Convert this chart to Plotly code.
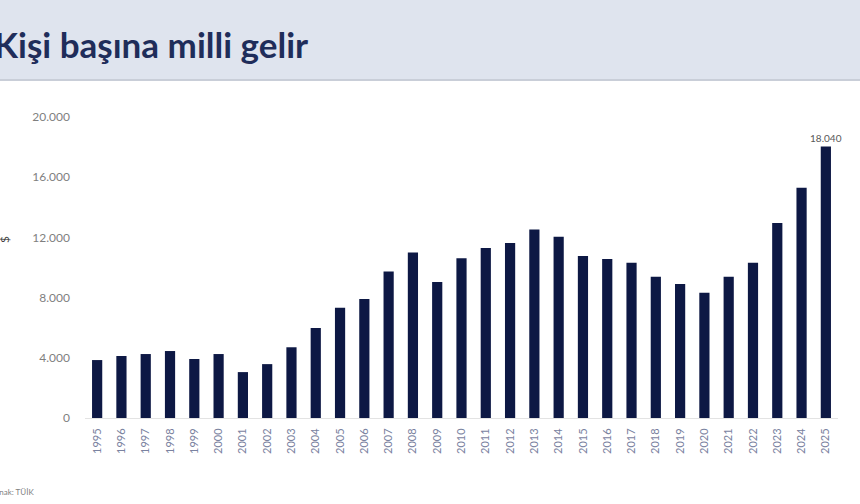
import plotly.graph_objects as go

years = [str(y) for y in range(1995, 2026)]
gelir = [3850, 4120, 4250, 4450, 3920, 4250, 3050, 3580, 4700, 5980,
         7330, 7900, 9730, 10990, 9030, 10620, 11290, 11620, 12520, 12050,
         10760, 10560, 10320, 9390, 8900, 8330, 9390, 10320, 12950, 15300,
         18040]
title_text = "Kişi başına milli gelir"
unit_text = "$"
source_text = "Kaynak: TÜİK"

# only the last bar carries a value label
bar_text = [""] * (len(gelir) - 1) + [f"{gelir[-1]:,}".replace(",", ".")]

navy = "#0d1844"

fig = go.Figure(go.Bar(
    x=years,
    y=gelir,
    text=bar_text,
    textposition="outside",
    constraintext="none",
    textfont=dict(size=10, color="#595959"),
    cliponaxis=False,
    marker=dict(color=navy, line=dict(width=0)),
))

fig.update_layout(
    width=860, height=504,
    margin=dict(l=85, r=22, t=117, b=86),
    paper_bgcolor="white",
    plot_bgcolor="white",
    separators=",.",
    bargap=0.58,
    showlegend=False,
    font=dict(family="Lato, Roboto, sans-serif"),
    xaxis=dict(
        type="category",
        tickangle=-90,
        tickfont=dict(size=11, color="#7a82a0"),
        showgrid=False,
        showline=True,
        linecolor="#e3e3e3",
        ticks="",
        ticklabelstandoff=5,
    ),
    yaxis=dict(
        range=[0, 20000],
        tickvals=[0, 4000, 8000, 12000, 16000, 20000],
        tickformat=",d",
        tickfont=dict(size=12, color="#7f7f7f"),
        showgrid=False,
        zeroline=False,
        ticks="",
        ticklabelstandoff=14,
    ),
    shapes=[
        dict(type="rect", xref="paper", yref="paper",
             x0=-0.2, x1=1.1, y0=(418 - 80) / 301, y1=1.5,
             fillcolor="#dfe4ee", line=dict(width=0), layer="below"),
        dict(type="line", xref="paper", yref="paper",
             x0=-0.2, x1=1.1, y0=(418 - 80) / 301, y1=(418 - 80) / 301,
             line=dict(color="#c9ced8", width=2)),
    ],
    annotations=[
        dict(text=f"<b>{title_text}</b>", xref="paper", yref="paper",
             x=(-8 - 85) / 753, y=(418 - 44) / 301,
             xanchor="left", yanchor="middle", showarrow=False,
             font=dict(size=35, color="#1f2d5a", family="Lato, sans-serif")),
        dict(text=unit_text, xref="paper", yref="paper",
             x=(4 - 85) / 753, y=(418 - 240) / 301, textangle=-90,
             xanchor="center", yanchor="middle", showarrow=False,
             font=dict(size=12, color="#404040")),
        dict(text=source_text, xref="paper", yref="paper",
             x=(36 - 85) / 753, y=(418 - 492) / 301,
             xanchor="right", yanchor="middle", showarrow=False,
             font=dict(size=8, color="#7f7f7f")),
    ],
)

# page body has a default 8px margin; drop it so the figure sits at the corner
fig.write_html("out.html", config={"displayModeBar": False},
               post_script="document.body.style.margin='0';")
